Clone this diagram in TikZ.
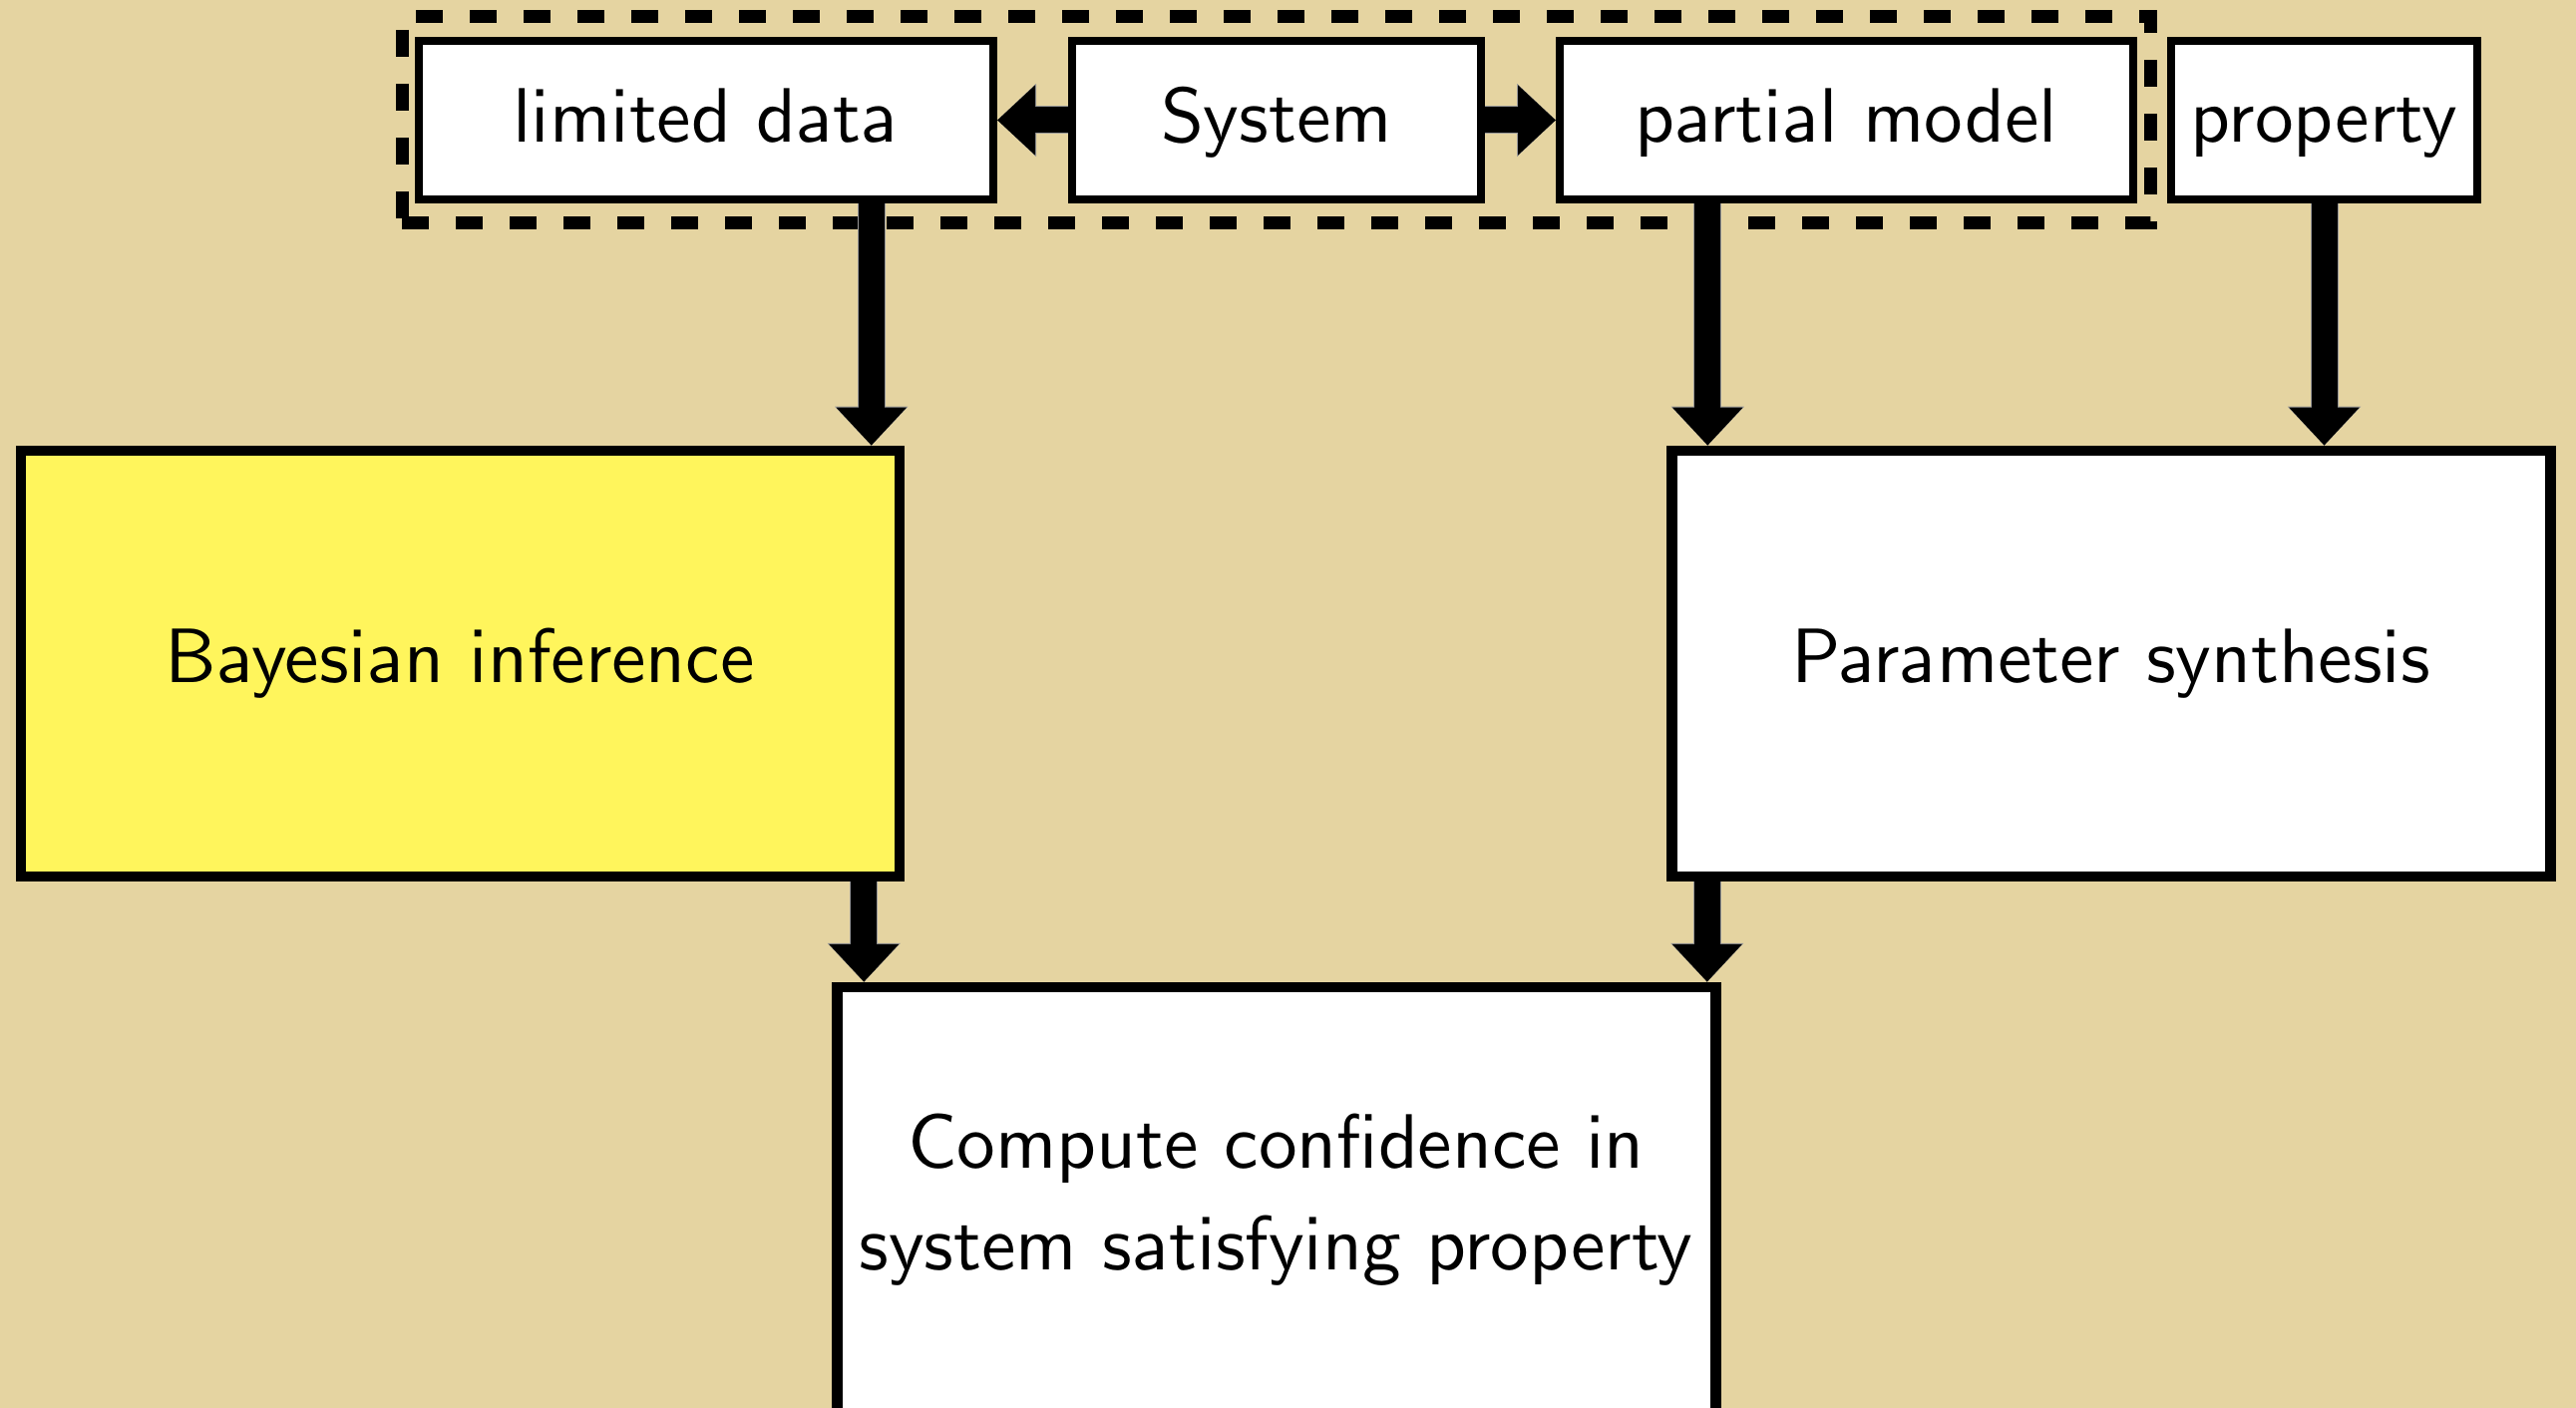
\documentclass[tikz,border=0pt]{standalone}
\usepackage{tikz}
\usetikzlibrary{arrows.meta,fit}
\definecolor{slidebg}{RGB}{229,212,161}
\definecolor{hiyellow}{RGB}{255,245,92}
% 10pt design of the sans font, blown up
\font\boxfont=cmss10 at 22pt

\begin{document}
\begin{tikzpicture}[
  font={\boxfont\baselineskip=29pt},
  smallbox/.style={rectangle, draw, fill=white, line width=0.8mm,
    minimum height=1.59cm, inner sep=0pt, text height=16.5pt, text depth=3.7pt},
  bigbox/.style={rectangle, draw, fill=white, line width=1.05mm,
    minimum width=8.81cm, minimum height=4.27cm, align=center},
  flow/.style={line width=2.6mm, -{Triangle[length=3.8mm,width=6.8mm]},
    preaction={draw=gray!80, line width=2.8mm, -{Triangle[length=3.9mm,width=7.1mm]}}}
]
% page background
\fill[slidebg] (0,0) rectangle (25.83,-14.12);
\useasboundingbox (0,0) rectangle (25.83,-14.12);

% Inputs along the top
\node[smallbox, minimum width=5.76cm] (limited) at (7.08,-1.205) {limited data};
\node[smallbox, minimum width=4.10cm] (sys) at (12.80,-1.205) {System};
\node[smallbox, minimum width=5.75cm] (partial) at (18.515,-1.205) {partial model};
\node[smallbox, minimum width=3.07cm] (prop) at (23.305,-1.205) {property};

% what we get from the system
\node[draw, dashed, line width=1.3mm, dash pattern=on 2.7mm off 2.7mm,
  inner xsep=1.3mm, inner ysep=2mm, fit=(limited)(partial)] (known) {};

% Main steps
\node[bigbox, fill=hiyellow] (bayes) at (4.615,-6.655) {Bayesian inference};
\node[bigbox] (param) at (21.17,-6.655) {Parameter synthesis};
\node[bigbox] (comp) at (12.80,-12.035) {Compute confidence in\\system satisfying property};

% arrow end points on the boxes
\coordinate (inB) at ([xshift=-3.35mm]bayes.north east);
\coordinate (inP) at ([xshift=4.1mm]param.north west);
\coordinate (inC1) at ([xshift=3.2mm]comp.north west);
\coordinate (inC2) at ([xshift=-1.4mm]comp.north east);

% Arrows
\draw[flow] (sys.west) -- (limited.east);
\draw[flow] (sys.east) -- (partial.west);
\draw[flow] (limited.south -| inB) -- (inB);
\draw[flow] (partial.south -| inP) -- (inP);
\draw[flow] (prop.south) -- (prop.south |- param.north);
\draw[flow] (bayes.south -| inC1) -- (inC1);
\draw[flow] (param.south -| inC2) -- (inC2);

\end{tikzpicture}
\end{document}
